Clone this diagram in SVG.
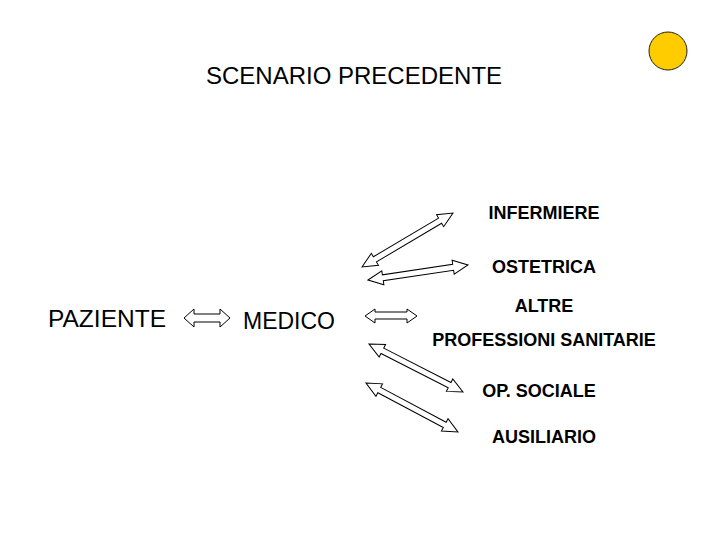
<svg xmlns="http://www.w3.org/2000/svg" width="720" height="540" viewBox="0 0 720 540">
<style>
.t{font-family:"Liberation Sans",Arial,sans-serif;fill:#000}
.big{font-size:23px}
.lbl{font-size:18px;font-weight:bold;text-anchor:middle}
.arr{fill:#fff;stroke:#000;stroke-width:1}
</style>
<rect width="720" height="540" fill="#fff"/>
<g id="title"><text class="t" x="206" y="84" font-size="24">SCENARIO PRECEDENTE</text></g>
<g id="sun"><circle cx="668" cy="51" r="19" fill="#FFCC00" stroke="#222" stroke-width="1"/></g>
<g id="paziente"><text class="t big" x="48" y="327" textLength="118" lengthAdjust="spacingAndGlyphs">PAZIENTE</text></g>
<g id="medico"><text class="t big" x="243" y="329">MEDICO</text></g>
<g id="infermiere"><text class="t lbl" x="544" y="219">INFERMIERE</text></g>
<g id="ostetrica"><text class="t lbl" x="544" y="273">OSTETRICA</text></g>
<g id="altre"><text class="t lbl" x="544" y="312">ALTRE</text><text class="t lbl" x="544" y="346">PROFESSIONI SANITARIE</text></g>
<g id="opsociale"><text class="t lbl" x="539" y="397">OP. SOCIALE</text></g>
<g id="ausiliario"><text class="t lbl" x="544" y="443">AUSILIARIO</text></g>
<g id="connectors">
<polygon class="arr" points="184,318 194,309 194,314 220,314 220,309 230,318 220,327 220,322 194,322 194,327"/>
<polygon class="arr" points="365,316 375,309 375,312 407,312 407,309 417,316 407,323 407,319 375,319 375,323"/>
<g transform="translate(362,267) rotate(-30.68)"><polygon class="arr" points="0,0 15,-7 15,-3 90.8,-3 90.8,-7 105.8,0 90.8,7 90.8,3 15,3 15,7"/></g>
<g transform="translate(368,280) rotate(-8.53)"><polygon class="arr" points="0,0 15,-7 15,-3 86.1,-3 86.1,-7 101.1,0 86.1,7 86.1,3 15,3 15,7"/></g>
<g transform="translate(369,344) rotate(27.05)"><polygon class="arr" points="0,0 15,-7 15,-3 90.5,-3 90.5,-7 105.5,0 90.5,7 90.5,3 15,3 15,7"/></g>
<g transform="translate(366,383) rotate(28.04)"><polygon class="arr" points="0,0 15,-7 15,-3 89.2,-3 89.2,-7 104.2,0 89.2,7 89.2,3 15,3 15,7"/></g>
</g>
</svg>
